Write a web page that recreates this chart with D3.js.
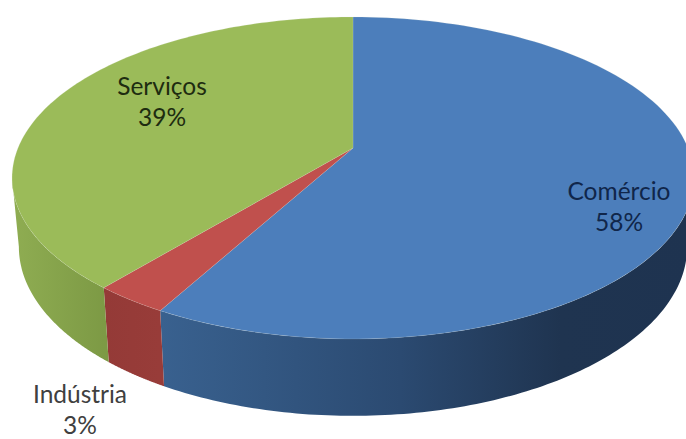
<!DOCTYPE html>
<html>
<head>
<meta charset="utf-8">
<script src="https://cdnjs.cloudflare.com/ajax/libs/d3/7.8.5/d3.min.js"></script>
<style>
  html, body { margin: 0; padding: 0; background: #fff; }
  svg { display: block; }
  text { font-family: Lato, "Open Sans", sans-serif; font-size: 24.5px; text-anchor: middle; }
</style>
</head>
<body>
<svg id="chart" width="686" height="439"></svg>
<script>
const categories = ["Comércio", "Indústria", "Serviços"];
const shares = [58, 3, 39];
const topColors = ["#4c7ebb", "#c0504d", "#9bbb59"];
const sideStops = [
  [["0%", "#39618f"], ["45%", "#2b4a71"], ["75%", "#1f3450"], ["100%", "#1e3350"]],
  [["0%", "#943a37"], ["100%", "#983c39"]],
  [["0%", "#8fad52"], ["100%", "#7d9a45"]]
];
const labelColors = ["#10264a", "#404040", "#1e2c10"];
const labelAnchors = [[619, 200], [80, 403], [162, 95]];
const lineGap = 31;

const svg = d3.select("#chart");

// Tilted-disc projection: the disc is viewed in perspective, so the hub sits
// above the centre of the visible ellipse.
const hub = { x: 353, y: 148 };
const persp = 0.186, spreadX = 335, spreadY = 155.4;
const onRim = a => {
  const u = Math.sin(a), v = -Math.cos(a), w = 1 - persp * v;
  return [hub.x + spreadX * u / w, hub.y + spreadY * v / w];
};
// Lower rim of the disc's thickness.
const onBase = ([x, y]) => [hub.x + 0.98 * (x - hub.x), 1.05 * y + 60];

const pie = d3.pie().sort(null).value(d => d)(shares);
const line = d3.line();
const arcAngles = (a0, a1) => d3.range(0, 121).map(i => a0 + (a1 - a0) * i / 120);

const sideFrom = Math.PI / 2 + Math.asin(persp);
const sideTo = 3 * Math.PI / 2 - Math.asin(persp);

const defs = svg.append("defs");
sideStops.forEach((stops, i) => {
  const a0 = Math.max(pie[i].startAngle, sideFrom), a1 = Math.min(pie[i].endAngle, sideTo);
  const xs = [onRim(a0)[0], onRim(a1)[0]];
  const grad = defs.append("linearGradient").attr("id", "side" + i)
    .attr("gradientUnits", "userSpaceOnUse")
    .attr("x1", d3.min(xs)).attr("x2", d3.max(xs)).attr("y1", 0).attr("y2", 0);
  stops.forEach(s => grad.append("stop").attr("offset", s[0]).attr("stop-color", s[1]));
});

// Visible wall of each slice
svg.append("g").selectAll("path").data(pie).join("path")
  .attr("d", d => {
    const a0 = Math.max(d.startAngle, sideFrom), a1 = Math.min(d.endAngle, sideTo);
    if (a1 <= a0) return null;
    const upper = arcAngles(a0, a1).map(onRim);
    const lower = upper.map(onBase).reverse();
    return line(upper.concat(lower)) + "Z";
  })
  .attr("fill", (d, i) => `url(#side${i})`);

// Top face of each slice
svg.append("g").selectAll("path").data(pie).join("path")
  .attr("d", d => line([[hub.x, hub.y]].concat(arcAngles(d.startAngle, d.endAngle).map(onRim))) + "Z")
  .attr("fill", (d, i) => topColors[i])
  .attr("stroke", "#dfe8d8").attr("stroke-opacity", 0.2).attr("stroke-width", 0.8);

// Category and percentage labels
const labels = svg.append("g").selectAll("text").data(pie).join("text")
  .attr("fill", (d, i) => labelColors[i])
  .attr("x", (d, i) => labelAnchors[i][0])
  .attr("y", (d, i) => labelAnchors[i][1]);
labels.append("tspan").text((d, i) => categories[i]);
labels.append("tspan")
  .attr("x", (d, i) => labelAnchors[i][0])
  .attr("dy", lineGap)
  .text(d => d.value + "%");
</script>
</body>
</html>
